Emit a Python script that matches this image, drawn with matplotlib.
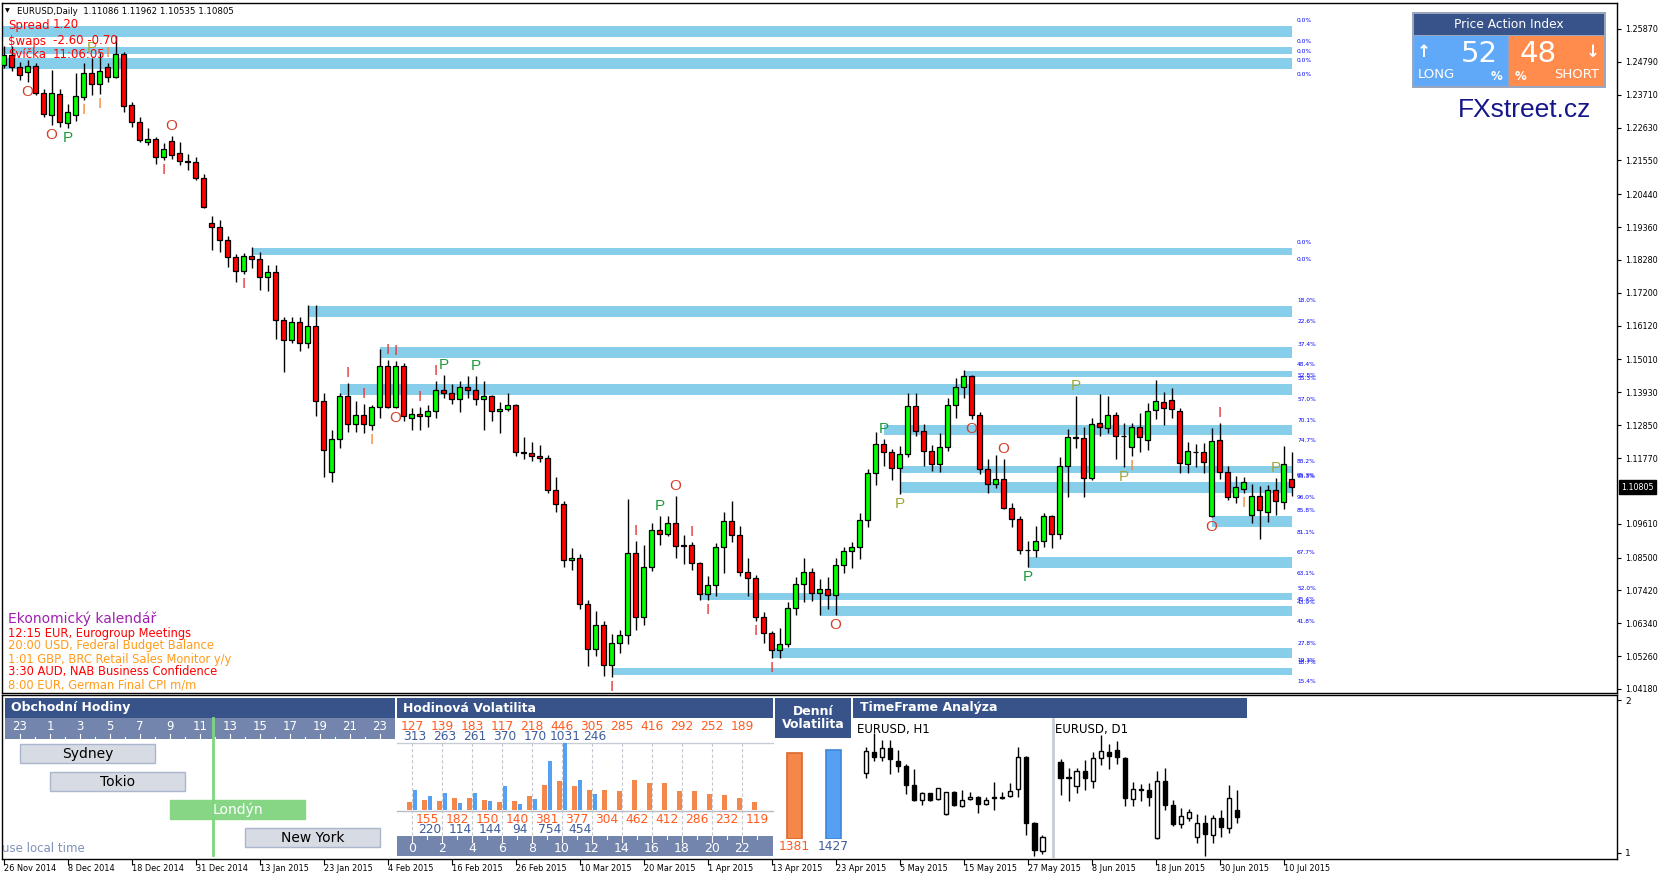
import matplotlib
matplotlib.use("Agg")
import matplotlib.pyplot as plt
from matplotlib.patches import Rectangle
from matplotlib.transforms import blended_transform_factory
import numpy as np

plt.rcParams['font.family'] = ['DejaVu Sans']

W, H = 1659, 877

# ---------------- data ----------------
date_labels = ["26 Nov 2014", "8 Dec 2014", "18 Dec 2014", "31 Dec 2014", "13 Jan 2015",
               "23 Jan 2015", "4 Feb 2015", "16 Feb 2015", "26 Feb 2015", "10 Mar 2015",
               "20 Mar 2015", "1 Apr 2015", "13 Apr 2015", "23 Apr 2015", "5 May 2015",
               "15 May 2015", "27 May 2015", "8 Jun 2015", "18 Jun 2015", "30 Jun 2015",
               "10 Jul 2015"]

opens = [1.2470, 1.2502, 1.2462, 1.2446, 1.2465, 1.2377, 1.2304, 1.2374, 1.2278, 1.2304,
         1.2362, 1.2442, 1.2406, 1.2462, 1.2429, 1.2505, 1.2337, 1.2281, 1.2216, 1.2225,
         1.2166, 1.2219, 1.2180, 1.2152, 1.2150, 1.2098, 1.1950, 1.1935, 1.1893, 1.1838,
         1.1793, 1.1841, 1.1830, 1.1773, 1.1788, 1.1630, 1.1566, 1.1625, 1.1555, 1.1610,
         1.1364, 1.1130, 1.1240, 1.1380, 1.1290, 1.1318, 1.1285, 1.1345, 1.1478, 1.1345,
         1.1478, 1.1310, 1.1322, 1.1315, 1.1330, 1.1400, 1.1390, 1.1370, 1.1410, 1.1400,
         1.1370, 1.1380, 1.1330, 1.1338, 1.1350, 1.1198, 1.1195, 1.1185, 1.1177, 1.1073,
         1.1027, 1.0842, 1.0850, 1.0697, 1.0549, 1.0627, 1.0496, 1.0568, 1.0597, 1.0866,
         1.0655, 1.0820, 1.0940, 1.0927, 1.0964, 1.0887, 1.0890, 1.0831, 1.0731, 1.0761,
         1.0886, 1.0970, 1.0923, 1.0802, 1.0782, 1.0656, 1.0601, 1.0546, 1.0566, 1.0685,
         1.0763, 1.0804, 1.0733, 1.0746, 1.0728, 1.0824, 1.0872, 1.0885, 1.0975, 1.1127,
         1.1223, 1.1198, 1.1145, 1.1189, 1.1349, 1.1266, 1.1200, 1.1159, 1.1214, 1.1350,
         1.1409, 1.1447, 1.1318, 1.1142, 1.1093, 1.1109, 1.1012, 1.0977, 1.0874, 1.0876,
         1.0906, 1.0986, 1.0927, 1.1151, 1.1245, 1.1242, 1.1112, 1.1292, 1.1276, 1.1318,
         1.1249, 1.1213, 1.1279, 1.1236, 1.1335, 1.1361, 1.1368, 1.1332, 1.1157, 1.1197,
         1.1197, 1.0987, 1.1236, 1.1131, 1.1049, 1.1075, 1.0990, 1.1052, 1.0999, 1.1072,
         1.1033, 1.11086]
highs = [1.2530, 1.2532, 1.2478, 1.2485, 1.2475, 1.2390, 1.2452, 1.2390, 1.2341, 1.2442,
         1.2475, 1.2492, 1.2508, 1.2475, 1.2564, 1.2511, 1.2347, 1.2298, 1.2262, 1.2232,
         1.2212, 1.2235, 1.2215, 1.2175, 1.2165, 1.2110, 1.1973, 1.1960, 1.1906, 1.1849,
         1.1850, 1.1870, 1.1855, 1.1811, 1.1810, 1.1640, 1.1640, 1.1640, 1.1680, 1.1680,
         1.1390, 1.1270, 1.1390, 1.1423, 1.1366, 1.1355, 1.1350, 1.1534, 1.1498, 1.1497,
         1.1488, 1.1340, 1.1346, 1.1350, 1.1430, 1.1450, 1.1420, 1.1430, 1.1448, 1.1448,
         1.1430, 1.1385, 1.1360, 1.1390, 1.1356, 1.1245, 1.1230, 1.1220, 1.1187, 1.1114,
         1.1035, 1.0880, 1.0860, 1.0711, 1.0675, 1.0640, 1.0598, 1.0612, 1.1043, 1.0905,
         1.0890, 1.0963, 1.0986, 1.0985, 1.1051, 1.0925, 1.0900, 1.0836, 1.0790, 1.0898,
         1.1001, 1.1036, 1.0955, 1.0850, 1.0792, 1.0670, 1.0610, 1.0620, 1.0703, 1.0787,
         1.0850, 1.0817, 1.0778, 1.0785, 1.0850, 1.0885, 1.0900, 1.0995, 1.1140, 1.1263,
         1.1240, 1.1206, 1.1215, 1.1391, 1.1391, 1.1290, 1.1220, 1.1260, 1.1375, 1.1440,
         1.1467, 1.1450, 1.1329, 1.1175, 1.1186, 1.1175, 1.1028, 1.0987, 1.0905, 1.0953,
         1.0996, 1.0990, 1.1180, 1.1272, 1.1380, 1.1280, 1.1310, 1.1386, 1.1381, 1.1328,
         1.1292, 1.1292, 1.1325, 1.1358, 1.1434, 1.1394, 1.1407, 1.1340, 1.1230, 1.1223,
         1.1226, 1.1276, 1.1292, 1.1151, 1.1118, 1.1115, 1.1092, 1.1085, 1.1088, 1.1110,
         1.1215, 1.11962]
lows = [1.2458, 1.2450, 1.2419, 1.2413, 1.2370, 1.2298, 1.2271, 1.2265, 1.2262, 1.2285,
        1.2355, 1.2370, 1.2373, 1.2413, 1.2426, 1.2314, 1.2265, 1.2216, 1.2206, 1.2143,
        1.2157, 1.2160, 1.2140, 1.2125, 1.2090, 1.2000, 1.1860, 1.1855, 1.1804, 1.1754,
        1.1782, 1.1800, 1.1728, 1.1727, 1.1567, 1.1460, 1.1555, 1.1528, 1.1540, 1.1316,
        1.1115, 1.1098, 1.1210, 1.1262, 1.1261, 1.1260, 1.1270, 1.1310, 1.1340, 1.1340,
        1.1300, 1.1270, 1.1270, 1.1280, 1.1310, 1.1375, 1.1355, 1.1327, 1.1375, 1.1350,
        1.1270, 1.1300, 1.1260, 1.1330, 1.1185, 1.1175, 1.1168, 1.1165, 1.1061, 1.1000,
        1.0820, 1.0810, 1.0680, 1.0494, 1.0526, 1.0461, 1.0458, 1.0535, 1.0567, 1.0613,
        1.0628, 1.0805, 1.0890, 1.0920, 1.0850, 1.0830, 1.0810, 1.0712, 1.0710, 1.0722,
        1.0800, 1.0900, 1.0790, 1.0722, 1.0640, 1.0570, 1.0520, 1.0520, 1.0557, 1.0662,
        1.0705, 1.0707, 1.0662, 1.0680, 1.0660, 1.0800, 1.0815, 1.0845, 1.0950, 1.1087,
        1.1152, 1.1105, 1.1060, 1.1180, 1.1250, 1.1150, 1.1135, 1.1130, 1.1200, 1.1307,
        1.1375, 1.1305, 1.1123, 1.1062, 1.1078, 1.1010, 1.0950, 1.0860, 1.0819, 1.0853,
        1.0885, 1.0882, 1.0910, 1.1050, 1.1210, 1.1048, 1.1105, 1.1250, 1.1259, 1.1174,
        1.1148, 1.1184, 1.1197, 1.1203, 1.1305, 1.1286, 1.1308, 1.1128, 1.1128, 1.1148,
        1.1128, 1.0983, 1.1108, 1.1039, 1.1029, 1.1062, 1.0964, 1.0911, 1.0967, 1.0990,
        1.1010, 1.10535]
closes = [1.2502, 1.2462, 1.2436, 1.2465, 1.2377, 1.2308, 1.2377, 1.2281, 1.2314, 1.2367,
          1.2442, 1.2406, 1.2449, 1.2429, 1.2505, 1.2334, 1.2281, 1.2222, 1.2225, 1.2166,
          1.2193, 1.2173, 1.2152, 1.2150, 1.2098, 1.2003, 1.1935, 1.1893, 1.1838, 1.1793,
          1.1841, 1.1830, 1.1773, 1.1788, 1.1630, 1.1566, 1.1625, 1.1555, 1.1610, 1.1364,
          1.1203, 1.1240, 1.1380, 1.1290, 1.1318, 1.1290, 1.1345, 1.1478, 1.1345, 1.1478,
          1.1316, 1.1322, 1.1315, 1.1330, 1.1400, 1.1390, 1.1370, 1.1410, 1.1400, 1.1370,
          1.1380, 1.1330, 1.1338, 1.1350, 1.1198, 1.1195, 1.1185, 1.1177, 1.1073, 1.1027,
          1.0842, 1.0850, 1.0697, 1.0549, 1.0627, 1.0496, 1.0568, 1.0597, 1.0866, 1.0655,
          1.0820, 1.0940, 1.0927, 1.0964, 1.0887, 1.0890, 1.0831, 1.0731, 1.0761, 1.0886,
          1.0970, 1.0923, 1.0802, 1.0782, 1.0656, 1.0601, 1.0546, 1.0566, 1.0685, 1.0763,
          1.0804, 1.0733, 1.0746, 1.0728, 1.0824, 1.0872, 1.0885, 1.0975, 1.1127, 1.1223,
          1.1198, 1.1145, 1.1189, 1.1349, 1.1266, 1.1200, 1.1159, 1.1214, 1.1350, 1.1409,
          1.1447, 1.1318, 1.1142, 1.1093, 1.1109, 1.1012, 1.0977, 1.0874, 1.0876, 1.0906,
          1.0986, 1.0927, 1.1151, 1.1245, 1.1242, 1.1112, 1.1289, 1.1278, 1.1318, 1.1249,
          1.1250, 1.1279, 1.1246, 1.1332, 1.1364, 1.1341, 1.1338, 1.1161, 1.1200, 1.1198,
          1.1164, 1.1233, 1.1131, 1.1049, 1.1082, 1.1098, 1.1052, 1.1006, 1.1072, 1.1036,
          1.1159, 1.10805]

price_ticks = [1.25870, 1.24790, 1.23710, 1.22630, 1.21550, 1.20440, 1.19360, 1.18280,
               1.17200, 1.16120, 1.15010, 1.13930, 1.12850, 1.11770, 1.09610, 1.08500,
               1.07420, 1.06340, 1.05260, 1.04180]
last_price = 1.10805

# support / resistance zones: start bar, top price, bottom price
zone_start = [-1, -1, -1, 31, 38, 47, 120, 42, 110, 112, 112, 151, 128, 87, 102, 96, 76]
zone_top = [1.25969, 1.25278, 1.24917, 1.18673, 1.16767, 1.15421, 1.14630, 1.14203, 1.12856,
            1.11509, 1.10983, 1.09865, 1.08518, 1.07335, 1.06908, 1.05528, 1.04871]
zone_bottom = [1.25607, 1.25048, 1.24555, 1.18443, 1.16406, 1.15059, 1.14433, 1.13842, 1.12527,
               1.11279, 1.10621, 1.09504, 1.08156, 1.07105, 1.06579, 1.05199, 1.04641]

pct_price = [1.26163, 1.25466, 1.25121, 1.24841, 1.24388, 1.18860, 1.18305, 1.16948, 1.16254,
             1.15488, 1.14828, 1.14480, 1.14380, 1.13681, 1.13020, 1.12360, 1.11663, 1.11200,
             1.11150, 1.10480, 1.10030, 1.09333, 1.08672, 1.07979, 1.07492, 1.07130, 1.07030,
             1.06414, 1.05681, 1.05120, 1.05040, 1.04430]
pct_text = ["0.0%", "0.0%", "0.0%", "0.0%", "0.0%", "0.0%", "0.0%", "18.0%", "22.6%",
            "37.4%", "48.4%", "52.8%", "55.3%", "57.0%", "70.1%", "74.7%", "88.2%", "95.3%",
            "93.3%", "96.0%", "85.8%", "81.1%", "67.7%", "63.1%", "52.0%", "45.4%", "43.9%",
            "41.8%", "27.8%", "19.3%", "18.7%", "15.4%"]

# pattern signals (bar, kind, side)
sig_bar = [3, 6, 21, 49, 84, 104, 121, 125, 151,
           8, 11, 55, 59, 82, 110, 112, 128, 134, 140, 159,
           10, 12, 13, 46, 141, 155,
           20, 30, 43, 45, 48, 49, 52, 54, 76, 79, 86, 88, 94, 96, 152]
sig_kind = (["O"] * 9 + ["P", "Pw", "P", "P", "P", "P", "Pw", "P", "Pw", "Pw", "Pw"]
            + ["I"] * 6 + ["Ir"] * 15)
sig_side = ["b", "b", "a", "b", "a", "b", "b", "a", "b",
            "b", "a", "a", "a", "a", "a", "b", "b", "a", "b", "a",
            "b", "b", "a", "b", "b", "b",
            "b", "b", "a", "a", "a", "a", "a", "a", "b", "a", "a", "b", "b", "b", "a"]

# hourly volatility (average = orange, today = blue)
vol_hours = list(range(24))
vol_avg = [127, 155, 139, 182, 183, 150, 117, 140, 218, 381, 446, 377, 305, 304, 285, 462,
           416, 412, 292, 286, 252, 232, 189, 119]
vol_today = [313, 220, 263, 114, 261, 144, 370, 94, 170, 754, 1031, 454, 246]
day_vol = [1381, 1427]

# trading sessions (start hour, end hour); -1 = 23:00 previous day
sessions = ["Sydney", "Tokio", "Londýn", "New York"]
sess_start = [-1, 1, 9, 14]
sess_end = [8, 10, 18, 23]
now_hour = 11.87

# H1 mini chart
h1_open = [1.11494, 1.11737, 1.11689, 1.11785, 1.11642, 1.11574, 1.11355, 1.11192, 1.11264,
           1.11196, 1.11025, 1.11283, 1.11116, 1.11196, 1.11224, 1.11144, 1.11224, 1.11224,
           1.11236, 1.11319, 1.11689, 1.10921, 1.10603]
h1_high = [1.11801, 1.11960, 1.11880, 1.11880, 1.11761, 1.11602, 1.11550, 1.11283, 1.11270,
           1.11331, 1.11283, 1.11295, 1.11303, 1.11283, 1.11230, 1.11224, 1.11391, 1.11283,
           1.11383, 1.11801, 1.11700, 1.10933, 1.10778]
h1_low = [1.11443, 1.11642, 1.11642, 1.11482, 1.11510, 1.11256, 1.11176, 1.11124, 1.11180,
          1.11184, 1.11017, 1.11112, 1.11104, 1.11192, 1.11033, 1.11124, 1.11072, 1.11204,
          1.11224, 1.11224, 1.10786, 1.10539, 1.10567]
h1_close = [1.11749, 1.11689, 1.11785, 1.11661, 1.11582, 1.11363, 1.11184, 1.11264, 1.11184,
            1.11331, 1.11275, 1.11124, 1.11184, 1.11224, 1.11144, 1.11184, 1.11212, 1.11212,
            1.11291, 1.11689, 1.10925, 1.10615, 1.10758]
d1_first_bar = 139

# ---------------- figure ----------------
fig = plt.figure(figsize=(W / 100, H / 100), dpi=100)
fig.patch.set_facecolor("white")


def axes_px(x0, y0, x1, y1, z=1):
    a = fig.add_axes([x0 / W, 1 - y1 / H, (x1 - x0) / W, (y1 - y0) / H])
    a.set_zorder(z)
    return a


PX = 0.00032864  # price per pixel
BAR_PX = 8.0

# ---- main price chart ----
ax = axes_px(2, 3, 1617, 693, z=1)
ax.set_xlim((2 - 3.5) / BAR_PX, (1617 - 3.5) / BAR_PX)
ax.set_ylim(1.25870 - (693 - 29) * PX, 1.25870 + 26 * PX)
for s in ax.spines.values():
    s.set_color("black")
    s.set_linewidth(1.0)
ax.set_xticks([])
ax.yaxis.tick_right()
ax.set_yticks(price_ticks)
ax.set_yticklabels(["%.5f" % v for v in price_ticks])
ax.tick_params(axis="y", length=3, width=0.8, pad=3, labelsize=5.8, colors="black")

n = len(opens)
xs = np.arange(n)
o = np.array(opens); hi = np.array(highs); lo = np.array(lows); c = np.array(closes)
x_end = n - 1

for st, tp, bt in zip(zone_start, zone_top, zone_bottom):
    x0 = st if st >= 0 else -2
    ax.add_patch(Rectangle((x0, bt), x_end - x0, tp - bt, facecolor="#87ceeb",
                           edgecolor="none", zorder=1))

ax.vlines(xs, lo, hi, color="black", linewidth=1.0, zorder=3)
body_low = np.minimum(o, c)
body_h = np.maximum(np.abs(c - o), 0.00006)
cols = np.where(c >= o, "#00ff00", "#ff0000")
ax.bar(xs, body_h, bottom=body_low, width=0.62, color=cols, edgecolor="black",
       linewidth=0.9, zorder=4)

for pp, tt in zip(pct_price, pct_text):
    ax.text(161.7, pp, tt, fontsize=4.2, color="#0000ff", va="center", ha="left", zorder=5)

kind_color = {"O": "#d4402a", "P": "#1f9a3c", "Pw": "#a3a635", "I": "#f08a3c",
              "Ir": "#e2383a"}
for b, k, sd in zip(sig_bar, sig_kind, sig_side):
    letter = k[0]
    if sd == "a":
        yv = hi[b] + 10 * PX
    else:
        yv = lo[b] - 10 * PX
    ax.text(b, yv, letter, fontsize=11, color=kind_color[k], ha="center", va="center",
            family="Liberation Sans", zorder=6)

trans = blended_transform_factory(ax.transAxes, ax.transData)
ax.text(1.0025, last_price, "%.5f" % last_price, transform=trans, color="white",
        fontsize=5.8, va="center", ha="left", zorder=10,
        bbox=dict(boxstyle="square,pad=0.3", fc="black", ec="black"))

# ---- lower sub-window ----
sub = axes_px(2, 695, 1617, 859, z=1)
sub.set_xlim(ax.get_xlim())
sub.set_ylim(1 - (859 - 853) / 153, 2 + 5 / 153)
for s in sub.spines.values():
    s.set_color("black")
    s.set_linewidth(1.0)
sub.yaxis.tick_right()
sub.set_yticks([1, 2])
sub.set_yticklabels(["1", "2"])
sub.tick_params(axis="y", length=3, width=0.8, pad=3, labelsize=6.5)
tick_idx = np.arange(0, 8 * len(date_labels), 8)
sub.set_xticks(tick_idx)
sub.set_xticklabels([])
sub.tick_params(axis="x", length=4, width=0.8, direction="out")
tb = blended_transform_factory(sub.transData, sub.transAxes)
for i, lab in zip(tick_idx, date_labels):
    sub.text(i, -0.055, lab, transform=tb, fontsize=5.9, ha="left", va="center",
             color="black")

# ---- overlay in pixel coordinates ----
ov = fig.add_axes([0, 0, 1, 1])
ov.set_zorder(5)
ov.set_xlim(0, W)
ov.set_ylim(H, 0)
ov.axis("off")

HDR = "#37538a"
BAR = "#7385ad"

# header texts
ov.text(5, 11, "▼", fontsize=4.5, va="center", ha="left", color="black")
ov.text(17, 11, "EURUSD,Daily  1.11086 1.11962 1.10535 1.10805", fontsize=6.2,
        va="center", ha="left", color="black")
for yy, a_, b_ in [(25, "Spread", "1.20"), (41, "$waps", "-2.60 -0.70"),
                   (55, "Svíčka", "11:06:05")]:
    ov.text(8, yy, a_, fontsize=8.5, color="#ff0000", va="center", ha="left")
    ov.text(53, yy, b_, fontsize=8.5, color="#ff0000", va="center", ha="left")

# Price Action Index box
ov.add_patch(Rectangle((1412, 12), 194, 76, facecolor="#9aa6c0", edgecolor="none"))
ov.add_patch(Rectangle((1414, 14), 190, 21, facecolor=HDR, edgecolor="none"))
ov.add_patch(Rectangle((1414, 36), 94, 50, facecolor="#60a8f8", edgecolor="none"))
ov.add_patch(Rectangle((1510, 36), 94, 50, facecolor="#ff8c4c", edgecolor="none"))
ov.text(1509, 24.5, "Price Action Index", color="white", fontsize=8.8, ha="center",
        va="center")
ov.text(1498, 54, "52", color="white", fontsize=21, ha="right", va="center")
ov.text(1520, 54, "48", color="white", fontsize=21, ha="left", va="center")
ov.text(1424, 52, "↑", color="white", fontsize=12, ha="center", va="center",
        fontweight="bold")
ov.text(1593, 52, "↓", color="white", fontsize=12, ha="center", va="center",
        fontweight="bold")
ov.text(1418, 75, "LONG", color="white", fontsize=9.5, ha="left", va="center")
ov.text(1502, 76, "%", color="white", fontsize=8.5, ha="right", va="center",
        fontweight="bold")
ov.text(1515, 76, "%", color="white", fontsize=8.5, ha="left", va="center",
        fontweight="bold")
ov.text(1599, 75, "SHORT", color="white", fontsize=9.5, ha="right", va="center")
ov.text(1525, 110, "FXstreet.cz", color="#16168a", fontsize=19, ha="center",
        va="center", family="Liberation Sans")

# economic calendar
ov.text(8, 619, "Ekonomický kalendář", color="#a020b0", fontsize=10, va="center")
cal_lines = ["12:15 EUR, Eurogroup Meetings", "20:00 USD, Federal Budget Balance",
             "1:01 GBP, BRC Retail Sales Monitor y/y", "3:30 AUD, NAB Business Confidence",
             "8:00 EUR, German Final CPI m/m"]
cal_cols = ["#ff0000", "#ff9c1a", "#ff9c1a", "#ff0000", "#ff9c1a"]
for k_, (t_, c_) in enumerate(zip(cal_lines, cal_cols)):
    ov.text(8, 633 + 13 * k_, t_, color=c_, fontsize=8.3, va="center")

# --- Obchodni Hodiny panel
ov.add_patch(Rectangle((5, 698), 390, 20, facecolor=HDR, edgecolor="none"))
ov.text(11, 708, "Obchodní Hodiny", color="white", fontsize=9, fontweight="bold",
        va="center")
ov.add_patch(Rectangle((5, 718), 390, 21, facecolor=BAR, edgecolor="none"))


def hx(h):
    return 20 + 15 * (h + 1)


for hh in range(-1, 24):
    xx = hx(hh)
    if hh % 2 == 1 or hh == -1:
        lab = "23" if hh == -1 else str(hh)
        ov.text(xx, 727, lab, color="white", fontsize=8.5, ha="center", va="center")
        ov.plot([xx, xx], [734, 739], color="white", lw=0.8)
    else:
        ov.plot([xx, xx], [737, 739], color="white", lw=0.8)
ov.text(2, 848, "use local time", color="#8090b8", fontsize=8.5, va="center")

sx = axes_px(5, 739, 395, 856, z=6)
sx.set_xlim(-2, 24)
sx.set_ylim((856 - 753.5) / 28, (739 - 753.5) / 28)
sx.axis("off")
for r, (nm, s0, s1) in enumerate(zip(sessions, sess_start, sess_end)):
    green = (nm == "Londýn")
    sx.add_patch(Rectangle((s0, r - 0.355), s1 - s0, 0.71,
                           facecolor="#86d686" if green else "#d6dbe4",
                           edgecolor="#86d686" if green else "#aab6cc", lw=1))
    sx.text((s0 + s1) / 2, r + 0.02, nm, ha="center", va="center", fontsize=10,
            color="white" if green else "black")
sx.plot([now_hour, now_hour], [(718 - 753.5) / 28, (855 - 753.5) / 28],
        color="#7fd67f", lw=2, clip_on=False)

# --- Hodinova Volatilita panel
ov.add_patch(Rectangle((397, 698), 376, 20, facecolor=HDR, edgecolor="none"))
ov.text(403, 708, "Hodinová Volatilita", color="white", fontsize=9, fontweight="bold",
        va="center")
ov.plot([397, 773], [743, 743], color="#c8ccd4", lw=1)
ov.plot([397, 773], [810.5, 810.5], color="#b8bcc4", lw=1)
ov.add_patch(Rectangle((397, 836), 376, 20, facecolor=BAR, edgecolor="none"))


def vx(h):
    return 412 + 15 * h


ORG = "#ff5a1f"
BLU = "#3f5c9c"
for hh in range(24):
    xx = vx(hh)
    if hh % 2 == 0:
        ov.plot([xx, xx], [743, 836], color="#c4c8d0", lw=0.8, ls=(0, (3, 2)))
        ov.text(xx, 848, str(hh), color="white", fontsize=9, ha="center", va="center")
        ov.plot([xx, xx], [836, 842], color="white", lw=0.8)
        ov.text(xx, 726.5, str(vol_avg[hh]), color=ORG, fontsize=8.8, ha="center",
                va="center")
        if hh < len(vol_today):
            ov.text(xx + 3, 736.5, str(vol_today[hh]), color=BLU, fontsize=8.8,
                    ha="center", va="center")
    else:
        ov.plot([xx, xx], [836, 839], color="white", lw=0.8)
        ov.text(xx, 819.5, str(vol_avg[hh]), color=ORG, fontsize=8.8, ha="center",
                va="center")
        if hh < len(vol_today):
            ov.text(xx + 3, 829.5, str(vol_today[hh]), color=BLU, fontsize=8.8,
                    ha="center", va="center")

vax = axes_px(397, 743, 773, 810, z=6)
vax.set_xlim((397 - 412) / 15, (773 - 412) / 15)
vax.set_ylim(0, max(vol_today))
vax.axis("off")
vax.bar(np.array(vol_hours) - 0.17, vol_avg, width=0.32, color="#f5874a")
vax.bar(np.arange(len(vol_today)) + 0.2, vol_today, width=0.32, color="#55a0f2")

# --- Denni Volatilita panel
ov.add_patch(Rectangle((775, 698), 76, 40, facecolor=HDR, edgecolor="none"))
ov.text(813, 718, "Denní\nVolatilita", color="white", fontsize=9, fontweight="bold",
        ha="center", va="center", linespacing=1.05)
dax = axes_px(775, 740, 851, 839, z=6)
dax.set_xlim(0, 2)
dax.set_ylim(0, 99 / 0.0623)
dax.axis("off")
dax.bar([0.51, 1.54], day_vol, width=0.38, color=["#f5874a", "#55a0f2"],
        edgecolor=["#d96a2e", "#3f86d8"], linewidth=1.2)
ov.text(794.5, 846, str(day_vol[0]), color=ORG, fontsize=8.8, ha="center", va="center")
ov.text(833.5, 846, str(day_vol[1]), color=BLU, fontsize=8.8, ha="center", va="center")

# --- TimeFrame Analyza panel
ov.add_patch(Rectangle((853, 698), 394, 20, facecolor=HDR, edgecolor="none"))
ov.text(860, 708, "TimeFrame Analýza", color="white", fontsize=9, fontweight="bold",
        va="center")
ov.text(857, 730, "EURUSD, H1", fontsize=8.5, color="black", va="center")
ov.text(1055, 730, "EURUSD, D1", fontsize=8.5, color="black", va="center")
ov.plot([1052.5, 1052.5], [719, 857], color="#c8ccd4", lw=2)


def mini_candles(a, O, Hh, L, C):
    O = np.asarray(O); Hh = np.asarray(Hh); L = np.asarray(L); C = np.asarray(C)
    xi = np.arange(len(O))
    a.vlines(xi, L, Hh, color="black", lw=1.0, zorder=2)
    bl = np.minimum(O, C)
    bh = np.maximum(np.abs(C - O), (a.get_ylim()[1] - a.get_ylim()[0]) * 0.006)
    fc = np.where(C > O, "white", "black")
    a.bar(xi, bh, bottom=bl, width=0.52, color=fc, edgecolor="black", lw=1.0, zorder=3)


h1 = axes_px(855, 718, 1050, 858, z=6)
h1.set_xlim((855 - 865.8) / 8.03, (1050 - 865.8) / 8.03)
h1.set_ylim(1.10517, 1.12134)
h1.axis("off")
mini_candles(h1, h1_open, h1_high, h1_low, h1_close)

d1 = axes_px(1054, 718, 1250, 858, z=6)
d1.set_xlim((1054 - 1060.5) / 8.03, (1250 - 1060.5) / 8.03)
d1.set_ylim(1.0901, 1.1507)
d1.axis("off")
sl = slice(d1_first_bar, n)
mini_candles(d1, o[sl], hi[sl], lo[sl], c[sl])

fig.savefig("out.png", dpi=100, facecolor="white")
